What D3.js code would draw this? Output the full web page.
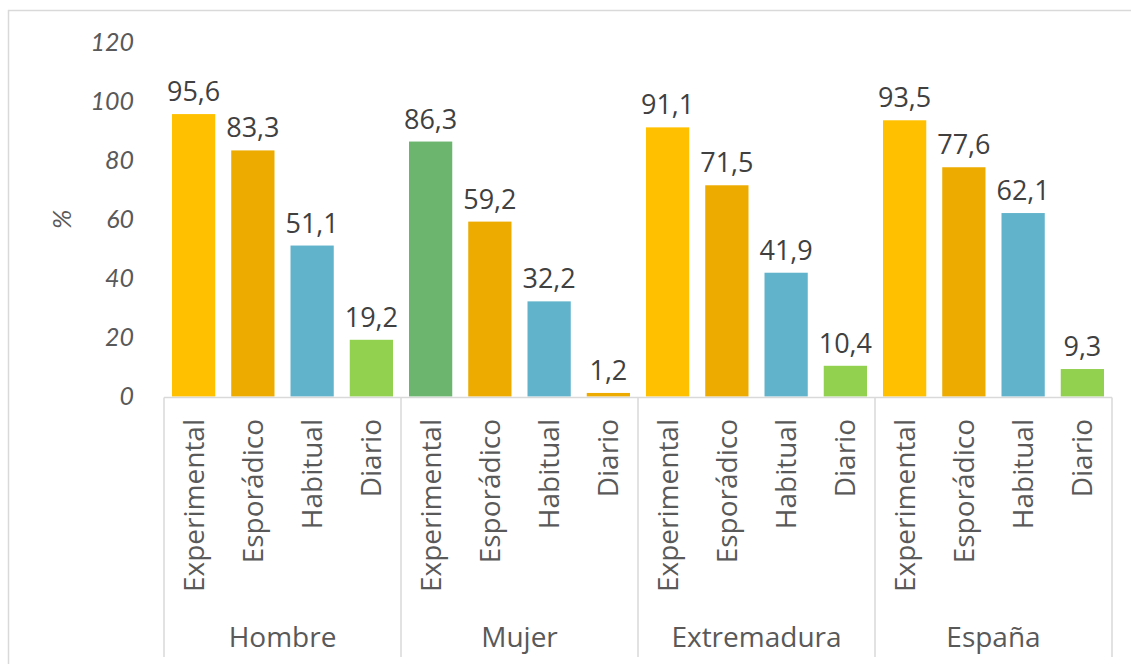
<!DOCTYPE html>
<html>
<head>
<meta charset="utf-8">
<script src="https://cdn.jsdelivr.net/npm/d3@7"></script>
<style>
  body { margin: 0; background: #fff; }
  svg { display: block; }
</style>
</head>
<body>
<div id="app"></div>
<script>
'use strict';

var groups = ['Hombre', 'Mujer', 'Extremadura', 'España'];
var levels = ['Experimental', 'Esporádico', 'Habitual', 'Diario'];
var hombre = [95.6, 83.3, 51.1, 19.2];
var mujer = [86.3, 59.2, 32.2, 1.2];
var extremadura = [91.1, 71.5, 41.9, 10.4];
var espana = [93.5, 77.6, 62.1, 9.3];
var yTicks = [0, 20, 40, 60, 80, 100, 120];

var series = [hombre, mujer, extremadura, espana];

// bar colours per level, Mujer uses its own set
var levelColors = ['#FFC000', '#EDAB00', '#61B3CB', '#92D050'];
var mujerColors = ['#6BB56E', '#EDAB00', '#61B3CB', '#EDAB00'];

var width = 1131, height = 664;
var x0 = 164, x1 = 1112, yBase = 396.5, yTop = 42;

var svg = d3.select('#app').append('svg')
  .attr('width', width).attr('height', height);

// outer frame
svg.append('rect')
  .attr('x', 8.5).attr('y', 10.5)
  .attr('width', 1200).attr('height', 700)
  .attr('fill', 'none').attr('stroke', '#d9d9d9').attr('stroke-width', 1.5);

var xGroup = d3.scaleBand().domain(groups).range([x0, x1]).padding(0);
var xLevel = d3.scaleBand().domain(levels).range([0, xGroup.bandwidth()]).paddingInner(0.27).paddingOuter(0.135);
var y = d3.scaleLinear().domain([0, 120]).range([yBase, yTop]);

// y tick labels
svg.append('g').selectAll('text').data(yTicks).enter().append('text')
  .attr('x', 134)
  .attr('y', function(d) { return y(d); })
  .attr('dy', '0.35em')
  .attr('text-anchor', 'end')
  .style('font-family', 'Lato, "Open Sans", sans-serif')
  .style('font-style', 'italic')
  .style('font-size', '25px')
  .style('fill', '#595959')
  .text(function(d) { return d; });

svg.append('text')
  .attr('transform', 'translate(62,' + y(60) + ') rotate(-90)')
  .attr('text-anchor', 'middle')
  .attr('dy', '0.35em')
  .style('font-family', 'Lato, "Open Sans", sans-serif')
  .style('font-style', 'italic')
  .style('font-size', '26px')
  .style('fill', '#595959')
  .text('%');

var rows = [];
groups.forEach(function(g, gi) {
  levels.forEach(function(l, li) {
    rows.push({ group: g, level: l, value: series[gi][li],
      color: g === 'Mujer' ? mujerColors[li] : levelColors[li] });
  });
});

var bars = svg.append('g').selectAll('g').data(rows).enter().append('g')
  .attr('transform', function(d) { return 'translate(' + xGroup(d.group) + ',0)'; });

bars.append('rect')
  .attr('x', function(d) { return xLevel(d.level); })
  .attr('width', xLevel.bandwidth())
  .attr('y', function(d) { return y(d.value); })
  .attr('height', function(d) { return yBase - y(d.value); })
  .attr('fill', function(d) { return d.color; });

bars.append('text')
  .attr('x', function(d) { return xLevel(d.level) + xLevel.bandwidth() / 2; })
  .attr('y', function(d) { return y(d.value) - 13; })
  .attr('text-anchor', 'middle')
  .style('font-family', '"Open Sans", sans-serif')
  .style('font-size', '27px')
  .style('fill', '#404040')
  .text(function(d) { return String(d.value).replace('.', ','); });

// category axis lines
var axis = svg.append('g').attr('stroke', '#d9d9d9').attr('stroke-width', 1.5);
axis.append('line')
  .attr('x1', x0).attr('x2', x1).attr('y1', yBase + 1).attr('y2', yBase + 1);
var seps = groups.map(function(g) { return xGroup(g); }).concat([x1]);
axis.selectAll('.sep').data(seps).enter().append('line')
  .attr('x1', function(d) { return d; }).attr('x2', function(d) { return d; })
  .attr('y1', yBase + 1).attr('y2', 657);

// level labels (rotated)
bars.append('text')
  .attr('transform', function(d) {
    return 'translate(' + (xLevel(d.level) + xLevel.bandwidth() / 2) + ',419) rotate(-90)';
  })
  .attr('text-anchor', 'end')
  .attr('dy', '0.36em')
  .style('font-family', '"Open Sans", sans-serif')
  .style('font-size', '28px')
  .style('fill', '#595959')
  .text(function(d) { return d.level; });

// group labels
svg.append('g').selectAll('text').data(groups).enter().append('text')
  .attr('x', function(d) { return xGroup(d) + xGroup.bandwidth() / 2; })
  .attr('y', 647)
  .attr('text-anchor', 'middle')
  .style('font-family', '"Open Sans", sans-serif')
  .style('font-size', '28px')
  .style('fill', '#595959')
  .text(function(d) { return d; });
</script>
</body>
</html>
